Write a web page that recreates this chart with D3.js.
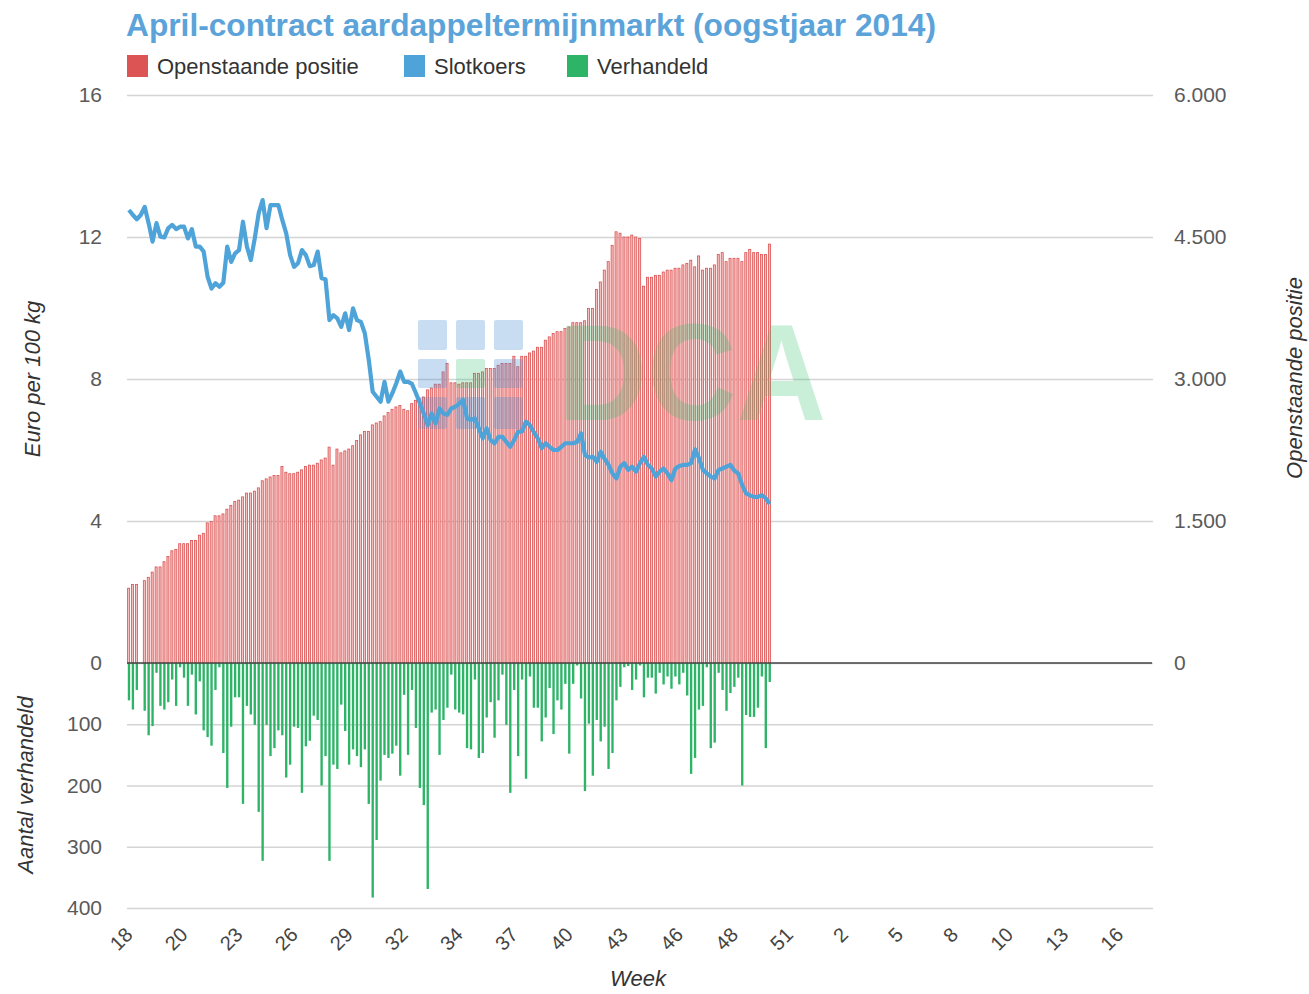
<!DOCTYPE html>
<html>
<head>
<meta charset="utf-8">
<script src="https://cdn.jsdelivr.net/npm/d3@7"></script>
<style>
  body { margin: 0; background: #fff; }
  svg { font-family: 'Liberation Sans', Arial, sans-serif; }
</style>
</head>
<body>
<svg></svg>
<script>
// week labels, one every 14 trading days
const weekTicks = ['18', '20', '23', '26', '29', '32', '34', '37', '40', '43', '46', '48', '51', '2', '5', '8', '10', '13', '16'];
const dayCount = 261;
const tickStep = 14;

const priceTicks = [0, 4, 8, 12, 16];
const openTicks = [0, 1500, 3000, 4500, 6000];
const tradedTicks = [100, 200, 300, 400];

// Openstaande positie (right axis)
const openInterest = [
    790, 830, 830, null, 870, 905, 960, 1015, 1015, 1070,
    1125, 1185, 1200, 1260, 1260, 1260, 1295, 1295, 1350, 1370,
    1480, 1495, 1555, 1555, 1575, 1625, 1665, 1705, 1720, 1755,
    1795, 1795, 1815, 1850, 1925, 1945, 1965, 1980, 1980, 2075,
    2015, 2000, 2000, 2015, 2040, 2075, 2090, 2090, 2110, 2145,
    2165, 2280, 2090, 2260, 2220, 2240, 2260, 2295, 2350, 2410,
    2445, 2445, 2515, 2535, 2550, 2610, 2645, 2680, 2705, 2720,
    2680, 2665, 2740, 2775, 2790, 2810, 2885, 2905, 2945, 2945,
    3075, 3165, 2960, 2960, 2945, 2960, 2960, 2960, 3060, 3060,
    3075, 3110, 3110, 3110, 3145, 3165, 3165, 3165, 3240, 3130,
    3240, 3240, 3275, 3295, 3335, 3335, 3410, 3445, 3480, 3500,
    3500, 3535, 3550, 3595, 3595, 3595, 3615, 3745, 3745, 3945,
    4025, 4150, 4240, 4410, 4555, 4540, 4500, 4500, 4520, 4500,
    4485, 3980, 4075, 4075, 4095, 4095, 4130, 4150, 4150, 4170,
    4170, 4205, 4220, 4255, 4185, 4300, 4150, 4170, 4170, 4205,
    4315, 4335, 4240, 4275, 4275, 4275, 4240, 4335, 4370, 4335,
    4335, 4315, 4315, 4425
];

// Slotkoers, euro per 100 kg (left axis)
const closePrice = [
    12.76, 12.62, 12.50, 12.62, 12.85, 12.39, 11.87, 12.39, 12.01, 11.99,
    12.25, 12.34, 12.22, 12.29, 12.29, 11.96, 12.22, 11.73, 11.73, 11.59,
    10.88, 10.55, 10.70, 10.60, 10.71, 11.73, 11.30, 11.54, 11.63, 12.43,
    11.73, 11.35, 11.96, 12.67, 13.04, 12.25, 12.90, 12.90, 12.90, 12.48,
    12.10, 11.49, 11.16, 11.26, 11.63, 11.49, 11.18, 11.21, 11.59, 10.84,
    10.81, 9.66, 9.80, 9.71, 9.47, 9.85, 9.38, 9.99, 9.66, 9.61,
    9.29, 8.54, 7.64, 7.50, 7.36, 7.92, 7.36, 7.60, 7.88, 8.21,
    7.92, 7.92, 7.86, 7.60, 7.32, 7.03, 6.70, 7.03, 6.75, 7.17,
    7.03, 6.99, 7.17, 7.22, 7.30, 7.41, 6.89, 6.85, 6.89, 6.61,
    6.33, 6.61, 6.28, 6.19, 6.37, 6.37, 6.23, 6.09, 6.28, 6.52,
    6.52, 6.80, 6.70, 6.50, 6.33, 6.05, 6.19, 6.09, 6.00, 6.00,
    6.09, 6.19, 6.19, 6.19, 6.23, 6.47, 5.86, 5.79, 5.81, 5.67,
    5.95, 5.75, 5.58, 5.34, 5.20, 5.53, 5.63, 5.44, 5.53, 5.39,
    5.63, 5.81, 5.58, 5.48, 5.25, 5.39, 5.48, 5.34, 5.15, 5.48,
    5.55, 5.58, 5.58, 5.63, 6.02, 5.77, 5.44, 5.34, 5.25, 5.20,
    5.44, 5.48, 5.53, 5.58, 5.42, 5.34, 5.01, 4.78, 4.72, 4.68,
    4.68, 4.73, 4.64, 4.48
];

// Verhandeld (lower axis, downwards)
const traded = [
    61, 76, 44, null, 78, 118, 103, 16, 70, 76,
    64, 27, 70, 7, 24, 70, 19, 84, 30, 110,
    121, 135, 44, 7, 147, 204, 104, 56, 56, 230,
    70, 84, 101, 243, 323, 101, 152, 139, 110, 118,
    187, 166, 104, 106, 212, 136, 127, 86, 93, 200,
    152, 323, 166, 173, 68, 111, 166, 141, 152, 170,
    141, 230, 383, 289, 192, 150, 155, 148, 135, 184,
    52, 150, 44, 106, 204, 232, 369, 81, 76, 150,
    93, 73, 19, 76, 81, 84, 139, 141, 27, 155,
    147, 89, 64, 122, 61, 19, 101, 212, 44, 152,
    27, 189, 22, 73, 73, 128, 89, 41, 116, 61,
    76, 34, 148, 34, 4, 58, 209, 99, 184, 93,
    128, 104, 173, 147, 61, 39, 7, 5, 44, 27,
    4, 56, 24, 24, 50, 16, 35, 22, 42, 22,
    35, 16, 53, 181, 155, 76, 70, 7, 139, 130,
    16, 44, 78, 49, 39, 24, 200, 85, 88, 88,
    73, 22, 139, 31
];

const width = 1309;
const height = 994;
const plot = { left: 127, right: 1153, top: 95, zero: 663, bottom: 908 };
const gridW = plot.right - plot.left;

const colors = { open: '#dc5454', price: '#4ea3d9', traded: '#2db467' };

const svg = d3.select('svg')
    .attr('width', width)
    .attr('height', height);

svg.append('rect').attr('width', width).attr('height', height).attr('fill', '#fff');

const x = d3.scaleBand()
    .domain(d3.range(dayCount))
    .range([plot.left, plot.right]);

const yPrice = d3.scaleLinear().domain([0, 16]).range([plot.zero, plot.top]);
const yOpen = d3.scaleLinear().domain([0, 6000]).range([plot.zero, plot.top]);
const yTraded = d3.scaleLinear().domain([0, 400]).range([plot.zero, plot.bottom]);

const nl = d3.formatLocale({ decimal: ',', thousands: '.', grouping: [3], currency: ['€', ''] });

function styleAxis(g) {
    g.select('.domain').remove();
    g.selectAll('.tick line').attr('stroke', '#d4d4d4').attr('stroke-width', 1.5);
    g.selectAll('.tick text').attr('fill', '#5a5a5a').style('font-size', '21px');
}

// grid + left labels (price)
svg.append('g')
    .attr('class', 'y-axis')
    .attr('transform', `translate(${plot.left},0)`)
    .call(d3.axisLeft(yPrice).tickValues(priceTicks).tickSize(-gridW).tickPadding(25))
    .call(styleAxis);

// lower grid + labels (traded)
svg.append('g')
    .attr('class', 'y-axis-traded')
    .attr('transform', `translate(${plot.left},0)`)
    .call(d3.axisLeft(yTraded).tickValues(tradedTicks).tickSize(-gridW).tickPadding(25))
    .call(styleAxis);

// right labels (open interest)
svg.append('g')
    .attr('class', 'y-axis-right')
    .attr('transform', `translate(${plot.right},0)`)
    .call(d3.axisRight(yOpen).tickValues(openTicks).tickSize(0).tickPadding(21).tickFormat(nl.format(',')))
    .call(styleAxis);

const bw = x.bandwidth();

svg.selectAll('.bar-open')
    .data(openInterest.map((v, i) => ({ i, v })).filter(d => d.v != null))
    .enter().append('rect')
    .attr('class', 'bar-open')
    .attr('x', d => x(d.i) + 0.6)
    .attr('y', d => yOpen(d.v))
    .attr('width', bw * 0.52)
    .attr('height', d => yOpen(0) - yOpen(d.v))
    .attr('fill', '#f6c0c0')
    .attr('stroke', '#dc5050')
    .attr('stroke-width', 0.8);

svg.selectAll('.bar-traded')
    .data(traded.map((v, i) => ({ i, v })).filter(d => d.v != null))
    .enter().append('rect')
    .attr('class', 'bar-traded')
    .attr('x', d => x(d.i) + 0.8)
    .attr('y', yTraded(0))
    .attr('width', bw * 0.6)
    .attr('height', d => yTraded(d.v) - yTraded(0))
    .attr('fill', colors.traded);

// zero line
svg.append('line')
    .attr('x1', plot.left).attr('x2', plot.right - 1)
    .attr('y1', yPrice(0)).attr('y2', yPrice(0))
    .attr('stroke', '#444').attr('stroke-width', 1.6);

// watermark
const wm = svg.append('g').attr('class', 'watermark');
const wmCols = [418, 456, 494];
const wmRows = [[320, 350], [359, 388], [397, 429]];
wmRows.forEach((r, ri) => {
    wmCols.forEach((c, ci) => {
        wm.append('rect')
            .attr('x', c).attr('y', r[0])
            .attr('width', 29).attr('height', r[1] - r[0])
            .attr('rx', 2)
            .attr('fill', ri === 1 && ci === 1 ? '#2ec06a' : '#4a8fd0')
            .attr('opacity', ri === 1 && ci === 1 ? 0.25 : 0.3);
    });
});
wm.append('text')
    .attr('x', 558).attr('y', 420)
    .attr('textLength', 268).attr('lengthAdjust', 'spacingAndGlyphs')
    .style('font-size', '138px').style('font-weight', 'bold')
    .attr('fill', '#2ec06a').attr('opacity', 0.25)
    .text('DCA');

// price line
const line = d3.line()
    .x((d, i) => x(i) + bw / 2)
    .y(d => yPrice(d));

svg.append('path')
    .datum(closePrice)
    .attr('fill', 'none')
    .attr('stroke', colors.price)
    .attr('stroke-width', 4.2)
    .attr('stroke-linejoin', 'round')
    .attr('d', line);

// x axis
const xAxis = svg.append('g')
    .attr('class', 'x-axis')
    .attr('transform', `translate(0,${plot.bottom})`)
    .call(d3.axisBottom(x).tickValues(d3.range(0, dayCount, tickStep)).tickFormat((d, i) => weekTicks[i]).tickSize(0));
xAxis.select('.domain').remove();
xAxis.selectAll('.tick text')
    .attr('x', 0).attr('y', 0).attr('dy', '0.35em')
    .attr('transform', 'translate(0,23) rotate(-45)')
    .style('text-anchor', 'end')
    .style('font-size', '20px')
    .attr('fill', '#444');

// title and legend
svg.append('text')
    .attr('x', 126).attr('y', 36)
    .style('font-size', '31.7px').style('font-weight', 'bold')
    .attr('fill', '#5ba3d9')
    .text('April-contract aardappeltermijnmarkt (oogstjaar 2014)');

const legend = [
    { label: 'Openstaande positie', color: colors.open, x: 127 },
    { label: 'Slotkoers', color: colors.price, x: 404 },
    { label: 'Verhandeld', color: colors.traded, x: 567 }
];
const lg = svg.selectAll('.legend').data(legend).enter().append('g').attr('class', 'legend');
lg.append('rect')
    .attr('x', d => d.x).attr('y', 55)
    .attr('width', 21).attr('height', 22)
    .attr('fill', d => d.color);
lg.append('text')
    .attr('x', d => d.x + 30).attr('y', 74)
    .style('font-size', '22px')
    .attr('fill', '#333')
    .text(d => d.label);

// axis titles
function axisTitle(tx, ty, rot, txt) {
    svg.append('text')
        .attr('text-anchor', 'middle')
        .attr('transform', `translate(${tx},${ty}) rotate(${rot})`)
        .style('font-size', '22px').style('font-style', 'italic')
        .attr('fill', '#333')
        .text(txt);
}
axisTitle(40, 379, -90, 'Euro per 100 kg');
axisTitle(33, 785, -90, 'Aantal verhandeld');
axisTitle(1302, 378, -90, 'Openstaande positie');
axisTitle(638, 986, 0, 'Week');
</script>
</body>
</html>
